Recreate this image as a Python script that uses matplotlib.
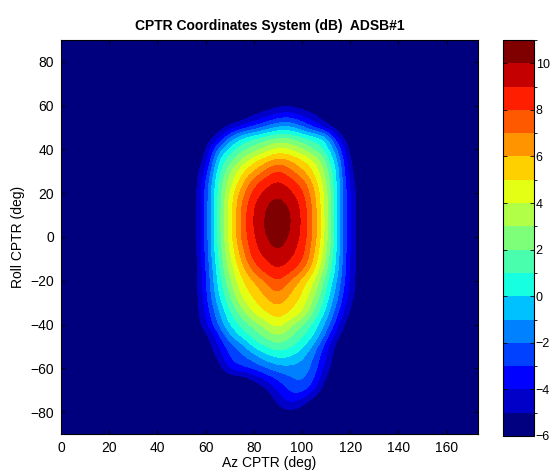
import numpy as np
import matplotlib
matplotlib.use("Agg")
import matplotlib.pyplot as plt
from matplotlib.colors import ListedColormap, BoundaryNorm

plt.rcParams['font.family'] = ['Liberation Sans', 'DejaVu Sans']

# Measured gain (dB) on a 5-degree grid; cells outside this block sit at the -6 dB floor
az_block = np.arange(55, 130, 5)          # 55 .. 125 deg
roll_block = np.arange(65, -90, -5)       # 65 .. -85 deg, top row first
gain_block = np.array([
    [-6, -6, -6, -6, -6, -6, -6, -6, -6, -6, -6, -6, -6, -6, -6],                      # 65
    [-6, -6, -6, -6, -6, -6, -5.9, -5.4, -5.3, -5.7, -6, -6, -6, -6, -6],              # 60
    [-6, -6, -6, -6, -6, -5.0, -4.3, -3.5, -3.3, -4.0, -4.8, -5.9, -6, -6, -6],        # 55
    [-6, -6, -6, -4.8, -3.8, -2.9, -1.9, -0.9, -0.8, -2.0, -3.3, -4.6, -6, -6, -6],    # 50
    [-6, -6, -4.4, -1.7, 0.3, 1.0, 1.6, 2.2, 2.1, 1.4, 0.7, 0.0, -4.2, -6, -6],        # 45
    [-6, -5.4, -1.7, 0.6, 1.5, 2.4, 3.4, 4.3, 4.0, 2.9, 1.8, 0.7, -2.0, -5.8, -6],     # 40
    [-6, -5.0, 0.0, 1.6, 3.2, 4.7, 5.6, 6.5, 6.0, 5.2, 4.05, 1.8, -1.0, -5.4, -6],     # 35
    [-6, -3.9, 0.6, 2.8, 4.75, 6.0, 7.25, 8.3, 7.3, 6.1, 5.0, 2.7, -0.45, -5.0, -6],   # 30
    [-6, -3.0, 1.0, 3.5, 5.7, 7.6, 8.6, 9.2, 8.6, 7.6, 5.7, 3.1, -0.4, -4.6, -6],      # 25
    [-6, -2.7, 1.2, 4.2, 6.6, 8.5, 9.3, 9.9, 9.2, 8.4, 6.3, 3.7, -0.4, -4.2, -6],      # 20
    [-6, -2.7, 1.3, 4.5, 7.2, 9.0, 9.9, 10.5, 9.8, 8.8, 6.6, 3.7, -0.4, -4.2, -6],     # 15
    [-6, -2.7, 1.3, 4.5, 7.4, 9.2, 10.1, 10.9, 10.1, 9.0, 6.8, 3.7, -0.4, -4.2, -6],   # 10
    [-6, -2.7, 1.3, 4.5, 7.4, 9.2, 10.2, 11.0, 10.1, 9.0, 6.8, 3.7, -0.4, -4.2, -6],   # 5
    [-6, -2.7, 1.3, 4.5, 7.4, 9.0, 10.0, 10.8, 9.9, 8.9, 6.8, 3.7, -0.4, -4.2, -6],    # 0
    [-6, -2.7, 1.2, 4.2, 6.9, 8.8, 9.6, 10.3, 9.5, 8.65, 6.4, 3.4, -0.4, -4.2, -6],    # -5
    [-6, -2.9, 0.9, 3.9, 6.3, 8.5, 9.05, 9.7, 9.05, 8.5, 6.0, 3.0, -0.7, -4.3, -6],    # -10
    [-6, -3.1, 0.6, 3.4, 5.6, 7.4, 8.65, 9.0, 8.65, 7.3, 5.3, 2.4, -0.7, -4.3, -6],    # -15
    [-6, -3.2, 0.3, 2.9, 4.95, 6.1, 7.2, 8.3, 7.0, 5.7, 4.2, 1.6, -1.25, -4.4, -6],    # -20
    [-6, -3.3, 0.0, 2.25, 4.5, 5.4, 6.4, 7.3, 6.2, 5.15, 3.5, 1.0, -1.7, -4.4, -6],    # -25
    [-6, -3.5, -0.6, 1.6, 3.7, 4.9, 5.7, 6.4, 5.5, 4.7, 2.7, 0.45, -2.2, -5.0, -6],    # -30
    [-6, -3.9, -1.3, 0.8, 2.5, 4.2, 4.95, 5.6, 4.95, 4.1, 1.9, -0.3, -2.9, -5.4, -6],  # -35
    [-6, -4.3, -1.9, 0.2, 1.3, 2.5, 3.6, 4.7, 3.4, 2.1, 0.75, -1.1, -3.9, -6, -6],     # -40
    [-6, -5.6, -3.3, -1.0, 0.5, 1.4, 2.4, 3.2, 2.3, 1.2, 0.2, -2.2, -5.0, -6, -6],     # -45
    [-6, -6, -4.0, -2.4, -1.5, 0.4, 1.1, 1.8, 1.2, 0.45, -1.25, -3.5, -5.8, -6, -6],   # -50
    [-6, -6, -5.0, -2.8, -2.3, -1.6, -0.4, 0.2, 0.0, -0.8, -2.0, -4.0, -6, -6, -6],    # -55
    [-6, -6, -5.8, -3.6, -3.0, -2.6, -2.0, -1.4, -1.3, -1.4, -2.2, -4.5, -6, -6, -6],  # -60
    [-6, -6, -6, -6, -6, -5.0, -3.75, -2.9, -2.2, -1.7, -2.8, -5.4, -6, -6, -6],       # -65
    [-6, -6, -6, -6, -6, -6, -5.4, -3.8, -2.8, -2.3, -3.75, -6, -6, -6, -6],           # -70
    [-6, -6, -6, -6, -6, -6, -6, -4.75, -3.5, -4.4, -5.9, -6, -6, -6, -6],             # -75
    [-6, -6, -6, -6, -6, -6, -6, -5.6, -5.3, -5.6, -6, -6, -6, -6, -6],                # -80
    [-6, -6, -6, -6, -6, -6, -6, -6, -6, -6, -6, -6, -6, -6, -6],                      # -85
])
floor_db = -6.0

levels = np.arange(-6, 12, 1)
cbar_ticks = np.arange(-6, 11, 2)
x_ticks = np.arange(0, 161, 20)
y_ticks = np.arange(-80, 81, 20)

# Full measurement grid
az = np.arange(0, 180, 5)
roll = np.arange(-90, 95, 5)
gain = np.full((roll.size, az.size), floor_db)
for i, r in enumerate(roll_block):
    for j, a in enumerate(az_block):
        gain[np.where(roll == r)[0][0], np.where(az == a)[0][0]] = gain_block[i, j]

n_bands = len(levels) - 1
cmap = ListedColormap(plt.get_cmap('jet')(np.linspace(0, 1, n_bands)))
cmap.set_under(cmap(0))
cmap.set_over(cmap(n_bands - 1))
norm = BoundaryNorm(levels, n_bands)

fig = plt.figure(figsize=(5.5, 4.75), dpi=100)
ax = fig.add_axes([61 / 550, 1 - 434 / 475, 417 / 550, 394 / 475])
cax = fig.add_axes([502.5 / 550, 1 - 436 / 475, 31 / 550, 396 / 475])

half = 2.5
im = ax.imshow(gain, origin='lower', aspect='auto', cmap=cmap, norm=norm,
               extent=(az[0] - half, az[-1] + half, roll[0] - half, roll[-1] + half),
               interpolation='bicubic', interpolation_stage='data')
ax.set_xlim(0, 173)
ax.set_ylim(-90, 90)
ax.set_xticks(x_ticks)
ax.set_yticks(y_ticks)
ax.tick_params(direction='in', length=3, width=0.6, top=True, right=True,
               labelsize=10, pad=5, colors='black')
for s in ax.spines.values():
    s.set_linewidth(0.8)

ax.set_title('CPTR Coordinates System (dB)  ADSB#1', fontsize=10, fontweight='bold', pad=7)
ax.set_xlabel('Az CPTR (deg)', fontsize=10, labelpad=1)
ax.set_ylabel('Roll CPTR (deg)', fontsize=10, labelpad=4)

cb = fig.colorbar(im, cax=cax, ticks=cbar_ticks)
cb.outline.set_linewidth(0.8)
cax.tick_params(direction='in', length=3, width=0.6, left=True, right=True,
                labelsize=9, pad=1.5)
cax.set_ylim(-6, 11)

fig.savefig('out.png', dpi=100)
